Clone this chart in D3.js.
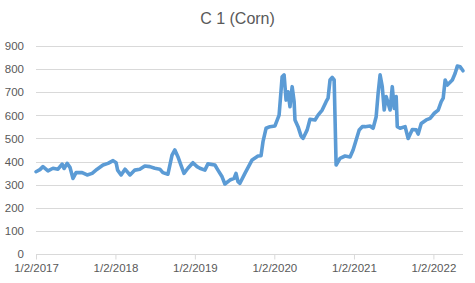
<!DOCTYPE html>
<html><head><meta charset="utf-8">
<script src="https://cdn.jsdelivr.net/npm/d3@7"></script>
<style>body{margin:0;background:#fff}svg{display:block}</style>
</head><body>
<svg id="c" width="475" height="283"></svg>
<script>
const title = "C 1 (Corn)";
const dates = ["2017-01-02","2017-01-20","2017-02-03","2017-02-26","2017-03-21","2017-04-13","2017-05-02","2017-05-11","2017-05-25","2017-06-07","2017-06-21","2017-07-05","2017-08-02","2017-08-25","2017-09-17","2017-10-10","2017-11-06","2017-11-29","2017-12-22","2018-01-05","2018-01-12","2018-01-28","2018-02-15","2018-03-10","2018-04-01","2018-04-24","2018-05-17","2018-06-09","2018-07-02","2018-07-25","2018-08-08","2018-08-31","2018-09-19","2018-10-02","2018-10-16","2018-10-30","2018-11-13","2018-12-01","2018-12-24","2019-01-12","2019-01-25","2019-02-17","2019-03-03","2019-04-04","2019-04-18","2019-05-07","2019-05-20","2019-06-12","2019-07-01","2019-07-10","2019-07-19","2019-07-28","2019-08-20","2019-09-22","2019-10-19","2019-11-02","2019-11-11","2019-11-25","2019-12-13","2020-01-05","2020-01-24","2020-02-07","2020-02-16","2020-02-25","2020-03-05","2020-03-14","2020-03-24","2020-04-02","2020-04-06","2020-04-20","2020-05-04","2020-05-13","2020-06-01","2020-06-14","2020-07-07","2020-07-21","2020-08-09","2020-08-27","2020-09-05","2020-09-14","2020-09-24","2020-10-03","2020-10-12","2020-10-30","2020-11-22","2020-12-15","2020-12-29","2021-01-12","2021-01-26","2021-02-09","2021-02-22","2021-03-17","2021-03-31","2021-04-14","2021-04-23","2021-05-02","2021-05-12","2021-05-21","2021-05-30","2021-06-08","2021-06-17","2021-06-27","2021-07-06","2021-07-15","2021-07-20","2021-08-02","2021-08-25","2021-09-08","2021-09-27","2021-10-15","2021-10-24","2021-11-07","2021-11-30","2021-12-18","2022-01-06","2022-01-24","2022-02-07","2022-02-16","2022-02-25","2022-03-07","2022-03-30","2022-04-12","2022-04-22","2022-05-05","2022-05-18"];
const values = [356,365,378,360,371,367,389,370,392,375,327,352,352,342,349,367,385,392,404,395,363,342,367,342,363,367,381,378,371,367,352,345,428,450,421,385,349,371,395,378,371,363,390,385,363,334,303,320,327,349,313,306,349,407,424,425,486,544,551,554,601,767,775,666,702,637,724,660,580,551,510,500,537,583,580,601,623,659,674,753,764,753,385,414,424,420,450,493,537,551,551,554,544,594,695,775,724,623,681,652,623,724,630,681,551,544,551,500,539,537,519,565,580,587,609,623,659,674,753,731,753,782,813,810,793];
const yTicks = [0,100,200,300,400,500,600,700,800,900];
const xTickLabels = ["1/2/2017","1/2/2018","1/2/2019","1/2/2020","1/2/2021","1/2/2022"];

const parse = d3.timeParse("%Y-%m-%d");
const parseTick = d3.timeParse("%m/%d/%Y");
const data = dates.map((d,i)=>({date:parse(d), value:values[i]}));

const svg = d3.select("#c");
const L = 36, R = 463, T = 46, B = 254;
const x = d3.scaleTime().domain([parse("2017-01-02"), parse("2022-05-18")]).range([L, R]);
const y = d3.scaleLinear().domain([0, 900]).range([B, T]);
const font = "'Liberation Sans', Arial, sans-serif";
const txt = "#595959";

svg.append("text").attr("x", 237.5).attr("y", 23.5).attr("text-anchor","middle")
  .attr("font-family", font).attr("font-size", 16).attr("fill", txt).text(title);

// gridlines
svg.append("g").selectAll("line").data(yTicks.filter(v=>v>0)).join("line")
  .attr("x1", L).attr("x2", R).attr("y1", d=>Math.round(y(d))+0.5).attr("y2", d=>Math.round(y(d))+0.5)
  .attr("stroke", "#d9d9d9").attr("stroke-width", 1);

// y axis labels
const yAxis = d3.axisLeft(y).tickValues(yTicks).tickSize(0).tickPadding(0);
const gy = svg.append("g").attr("transform", `translate(${L-12},0)`).call(yAxis);
gy.select(".domain").remove();
gy.selectAll("text").attr("font-family", font).attr("font-size", 11.5).attr("fill", txt);

// x axis
const xAxis = d3.axisBottom(x).tickValues(xTickLabels.map(s=>parseTick(s)))
  .tickFormat((d,i)=>xTickLabels[i]).tickSizeInner(5).tickSizeOuter(0).tickPadding(4);
const gx = svg.append("g").attr("transform", `translate(0,${B+0.5})`).call(xAxis);
gx.select(".domain").attr("stroke", "#d9d9d9").attr("d", `M${L},0H${R}`);
gx.selectAll(".tick line").attr("stroke", "#d9d9d9");
gx.selectAll("text").attr("font-family", font).attr("font-size", 11.5).attr("fill", txt);

// line
const line = d3.line().x(d=>x(d.date)).y(d=>y(d.value));
svg.append("path").datum(data).attr("d", line).attr("fill","none")
  .attr("stroke", "#5b9bd5").attr("stroke-width", 3.6).attr("stroke-linejoin","round").attr("stroke-linecap","round");
</script>
</body></html>
